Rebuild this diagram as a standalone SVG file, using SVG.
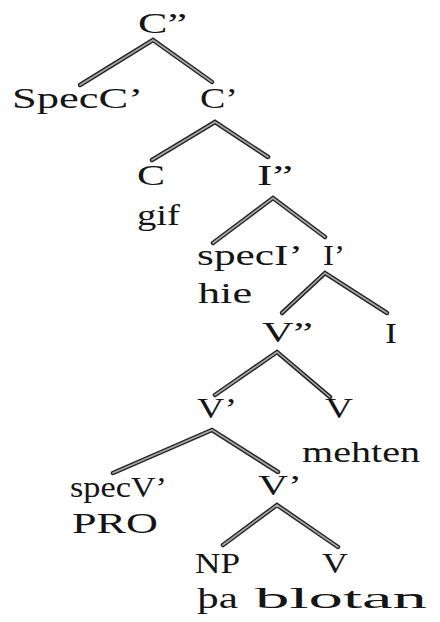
<svg xmlns="http://www.w3.org/2000/svg" width="440" height="622" viewBox="0 0 440 622">
  <style>
    .lbl { font-family: "Liberation Serif", "Times New Roman", serif; font-size: 30px; fill: #151515; lengthAdjust: spacingAndGlyphs; }
    .edge-out { fill: none; stroke: #262626; stroke-width: 4.5; stroke-linejoin: miter; stroke-linecap: round; }
    .edge-in { fill: none; stroke: #a8a8a8; stroke-width: 1.6; stroke-linejoin: miter; stroke-linecap: round; }
  </style>
  <defs>
    <g id="branches">
      <polyline points="80,85 153,40 212,82"/>
      <polyline points="152,160 215,122 268,157"/>
      <polyline points="213,243 273,198 325,237"/>
      <polyline points="282,313 325,273 387,313"/>
      <polyline points="215,395 277,352 330,397"/>
      <polyline points="113,473 212,430 278,472"/>
      <polyline points="223,545 277,505 338,547"/>
    </g>
  </defs>
  <rect width="440" height="622" fill="#ffffff"/>

  <!-- tree branches: dark outline with a light core -->
  <g id="connectors">
    <use href="#branches" class="edge-out"/>
    <use href="#branches" class="edge-in"/>
  </g>

  <g id="node-Cbar2"><text class="lbl" x="138" y="33" textLength="49" lengthAdjust="spacingAndGlyphs">C”</text></g>
  <g id="node-SpecC"><text class="lbl" x="12" y="108" textLength="131" lengthAdjust="spacingAndGlyphs">SpecC’</text></g>
  <g id="node-Cbar1"><text class="lbl" x="200" y="108" textLength="38" lengthAdjust="spacingAndGlyphs">C’</text></g>
  <g id="node-C">
    <text class="lbl" x="137" y="185" textLength="28" lengthAdjust="spacingAndGlyphs">C</text>
    <text class="lbl" x="137" y="225" textLength="43" lengthAdjust="spacingAndGlyphs">gif</text>
  </g>
  <g id="node-Ibar2"><text class="lbl" x="257" y="185" textLength="36" lengthAdjust="spacingAndGlyphs">I”</text></g>
  <g id="node-SpecI">
    <text class="lbl" x="197" y="265" textLength="106" lengthAdjust="spacingAndGlyphs">specI’</text>
    <text class="lbl" x="198" y="303" textLength="54" lengthAdjust="spacingAndGlyphs">hie</text>
  </g>
  <g id="node-Ibar1"><text class="lbl" x="323" y="265" textLength="22" lengthAdjust="spacingAndGlyphs">I’</text></g>
  <g id="node-Vbar2"><text class="lbl" x="262" y="342" textLength="51" lengthAdjust="spacingAndGlyphs">V”</text></g>
  <g id="node-I"><text class="lbl" x="385" y="343" textLength="12" lengthAdjust="spacingAndGlyphs">I</text></g>
  <g id="node-Vbar1-upper"><text class="lbl" x="197" y="418" textLength="40" lengthAdjust="spacingAndGlyphs">V’</text></g>
  <g id="node-V-mehten">
    <text class="lbl" x="325" y="418" textLength="28" lengthAdjust="spacingAndGlyphs">V</text>
    <text class="lbl" x="302" y="462" textLength="118" lengthAdjust="spacingAndGlyphs">mehten</text>
  </g>
  <g id="node-SpecV">
    <text class="lbl" x="70" y="497" textLength="97" lengthAdjust="spacingAndGlyphs">specV’</text>
    <text class="lbl" x="72" y="533" textLength="86" lengthAdjust="spacingAndGlyphs">PRO</text>
  </g>
  <g id="node-Vbar1-lower"><text class="lbl" x="258" y="495" textLength="44" lengthAdjust="spacingAndGlyphs">V’</text></g>
  <g id="node-NP">
    <text class="lbl" x="195" y="573" textLength="45" lengthAdjust="spacingAndGlyphs">NP</text>
    <text class="lbl" x="197" y="608" textLength="41" lengthAdjust="spacingAndGlyphs">þa</text>
  </g>
  <g id="node-V-blotan">
    <text class="lbl" x="322" y="573" textLength="26" lengthAdjust="spacingAndGlyphs">V</text>
    <text class="lbl" x="255" y="608" textLength="172" lengthAdjust="spacingAndGlyphs">blotan</text>
  </g>
</svg>
